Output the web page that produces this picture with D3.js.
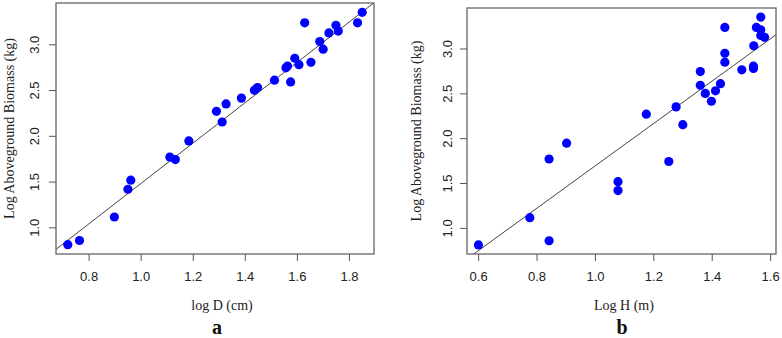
<!DOCTYPE html>
<html>
<head>
<meta charset="utf-8">
<script src="https://cdn.jsdelivr.net/npm/d3@7"></script>
<style>
  body { margin: 0; background: #fff; }
  svg { display: block; }
</style>
</head>
<body>
<svg width="782" height="338"></svg>
<script>
// log aboveground biomass (kg), one per tree
const biomassLog = [0.81, 0.856, 1.113, 1.416, 1.515, 1.768, 1.740, 1.944, 2.268, 2.151,
                    2.349, 2.412, 2.499, 2.528, 2.608, 2.743, 2.762, 2.589, 2.848, 2.778,
                    3.235, 2.803, 3.030, 2.947, 3.125, 3.208, 3.145, 3.235, 3.350];
// log diameter (cm), same trees
const diamLog = [0.720, 0.765, 0.899, 0.951, 0.962, 1.112, 1.133, 1.185, 1.291, 1.313,
                 1.328, 1.387, 1.437, 1.449, 1.514, 1.558, 1.564, 1.576, 1.592, 1.608,
                 1.630, 1.654, 1.688, 1.701, 1.723, 1.750, 1.759, 1.833, 1.851];
// log height (m), same trees
const heightLog = [0.601, 0.843, 0.777, 1.079, 1.079, 0.843, 1.253, 0.903, 1.176, 1.301,
                   1.278, 1.399, 1.378, 1.413, 1.430, 1.361, 1.503, 1.361, 1.445, 1.543,
                   1.445, 1.543, 1.544, 1.445, 1.581, 1.568, 1.568, 1.553, 1.568];

// fitted lines [intercept, slope]
const fitD = [-0.729, 2.206];
const fitH = [-0.673, 2.362];

const ticksXD = [0.8, 1.0, 1.2, 1.4, 1.6, 1.8];
const ticksXH = [0.6, 0.8, 1.0, 1.2, 1.4, 1.6];
const ticksY = [1.0, 1.5, 2.0, 2.5, 3.0];

const svg = d3.select("svg");

// R style domain: data range plus 4% each side
function padExtent(vals) {
    const [a, b] = d3.extent(vals);
    const p = (b - a) * 0.04;
    return [a - p, b + p];
}

function drawPanel(opt) {
    const scX = d3.scaleLinear().domain(padExtent(opt.xs)).range([opt.left, opt.right]);
    const scY = d3.scaleLinear().domain(padExtent(biomassLog)).range([opt.bottom, opt.top]);
    const pts = opt.xs.map((x, i) => ({x: x, y: biomassLog[i]}));

    const clipId = "clip-" + opt.name;
    svg.append("clipPath").attr("id", clipId)
        .append("rect")
        .attr("x", opt.left).attr("y", opt.top)
        .attr("width", opt.right - opt.left).attr("height", opt.bottom - opt.top);

    // regression line
    const dom = scX.domain();
    svg.append("line")
        .attr("clip-path", `url(#${clipId})`)
        .attr("x1", scX(dom[0])).attr("y1", scY(opt.fit[0] + opt.fit[1] * dom[0]))
        .attr("x2", scX(dom[1])).attr("y2", scY(opt.fit[0] + opt.fit[1] * dom[1]))
        .style("stroke", "#444")
        .style("stroke-width", 1);

    svg.append("g")
        .selectAll("circle")
        .data(pts)
        .enter()
        .append("circle")
        .attr("cx", d => scX(d.x))
        .attr("cy", d => scY(d.y))
        .attr("r", 4.6)
        .style("fill", "#0000ff");

    // box
    svg.append("rect")
        .attr("x", opt.left).attr("y", opt.top)
        .attr("width", opt.right - opt.left).attr("height", opt.bottom - opt.top)
        .style("fill", "none")
        .style("stroke", "#666")
        .style("stroke-width", 1.3);

    // axes
    const axX = svg.append("g")
        .attr("transform", `translate(0, ${opt.bottom})`)
        .call(d3.axisBottom(scX).tickValues(opt.ticksX).tickFormat(d3.format(".1f"))
              .tickSizeInner(7).tickSizeOuter(0).tickPadding(11));
    const axY = svg.append("g")
        .attr("transform", `translate(${opt.left}, 0)`)
        .call(d3.axisLeft(scY).tickValues(ticksY).tickFormat(d3.format(".1f"))
              .tickSizeInner(7).tickSizeOuter(0));
    [axX, axY].forEach(ax => {
        ax.select(".domain").remove();
        ax.selectAll("line").style("stroke", "#555");
        ax.selectAll("text")
            .style("font-family", "Liberation Sans, Arial, sans-serif")
            .style("font-size", "13px")
            .style("fill", "#222");
    });
    axY.selectAll("text")
        .attr("x", null).attr("dy", null)
        .attr("text-anchor", "middle")
        .attr("dominant-baseline", "central")
        .attr("transform", `translate(${opt.yTickX - opt.left}, 0) rotate(-90)`);

    // titles
    svg.append("text")
        .attr("x", opt.xTitleX).attr("y", 310)
        .attr("text-anchor", "middle")
        .style("font-family", "Liberation Serif, Times New Roman, serif")
        .style("font-size", "14px")
        .style("fill", "#222")
        .text(opt.xTitle);
    svg.append("text")
        .attr("transform", `translate(${opt.yTitleX}, ${(opt.top + opt.bottom) / 2}) rotate(-90)`)
        .attr("text-anchor", "middle")
        .attr("dominant-baseline", "central")
        .style("font-family", "Liberation Serif, Times New Roman, serif")
        .style("font-size", "14px")
        .style("fill", "#222")
        .text("Log Aboveground Biomass (kg)");
    svg.append("text")
        .attr("x", opt.letterX).attr("y", 334)
        .attr("text-anchor", "middle")
        .style("font-family", "Liberation Serif, Times New Roman, serif")
        .style("font-size", "20px")
        .style("font-weight", "bold")
        .style("fill", "#111")
        .text(opt.letter);
}

drawPanel({name: "a", xs: diamLog, fit: fitD, ticksX: ticksXD,
           left: 56, right: 374, top: 3, bottom: 254,
           yTickX: 34, yTitleX: 9, xTitleX: 222, xTitle: "log D (cm)",
           letterX: 217, letter: "a"});
drawPanel({name: "b", xs: heightLog, fit: fitH, ticksX: ticksXH,
           left: 467, right: 776, top: 8, bottom: 254,
           yTickX: 447, yTitleX: 416, xTitleX: 624, xTitle: "Log H (m)",
           letterX: 622, letter: "b"});
</script>
</body>
</html>
